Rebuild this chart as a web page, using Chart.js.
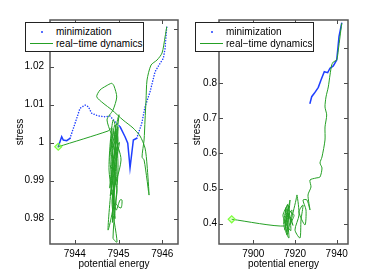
<!DOCTYPE html>
<html>
<head>
<meta charset="utf-8">
<script src="https://cdn.jsdelivr.net/npm/chart.js@4"></script>
<style>
  body { margin: 0; background: #fff; }
  #wrap { position: relative; width: 385px; height: 275px; overflow: hidden; font-family: 'Liberation Sans', Arial, sans-serif; }
  canvas { position: absolute; top: 0; }
  #cLeft { left: 0; }
  #cRight { left: 190px; }
  .legend { position: absolute; top: 22px; width: 119px; height: 30px; box-sizing: border-box; background: #fff; border: 1px solid #222; font-size: 10px; color: #000; }
  .legend .txt { position: absolute; left: 30px; line-height: 12px; white-space: nowrap; }
  .legend .dot { position: absolute; left: 15px; top: 8px; width: 2px; height: 2px; border-radius: 1px; background: #1f3fff; }
  .legend .line { position: absolute; left: 4px; top: 20px; width: 23px; height: 1px; background: #25a025; }
</style>
</head>
<body>
<div id="wrap">
  <canvas id="cLeft" width="190" height="275"></canvas>
  <canvas id="cRight" width="195" height="275"></canvas>
  <div class="legend" style="left:25px">
    <span class="dot"></span><span class="txt" style="top:3px">minimization</span>
    <span class="line"></span><span class="txt" style="top:15px">real−time dynamics</span>
  </div>
  <div class="legend" style="left:195px">
    <span class="dot"></span><span class="txt" style="top:3px">minimization</span>
    <span class="line"></span><span class="txt" style="top:15px">real−time dynamics</span>
  </div>
</div>
<script>
// left panel: minimization path (blue dots)
const leftMinX = [7943.622, 7943.700, 7943.737, 7943.815, 7943.890, 7944.005, 7944.119, 7944.233, 7944.309, 7944.387,
  7944.538, 7944.691, 7944.805, 7944.920, 7945.034, 7945.149, 7945.211, 7945.247, 7945.263, 7945.339,
  7945.416, 7945.531, 7945.606, 7945.721, 7945.835, 7945.950, 7946.025, 7946.064, 7946.103];
const leftMinY = [0.99889, 1.00153, 1.00066, 1.00047, 1.00111, 1.00505, 1.00900, 1.00987, 1.00942, 1.00768,
  1.00697, 1.00679, 1.00697, 1.00547, 1.00416, 1.00153, 0.99979, 0.99539, 0.99329, 1.00066,
  1.00111, 1.00505, 1.00942, 1.01337, 1.01863, 1.02084, 1.02216, 1.02479, 1.03047];

// left panel: real-time dynamics (green line)
const leftDynX = [7943.622, 7944.760, 7944.851, 7944.805, 7944.897, 7944.760, 7944.851, 7944.989, 7944.874, 7944.783,
  7944.943, 7945.034, 7945.080, 7945.057, 7944.943, 7944.966, 7944.828, 7944.920, 7944.989, 7944.874,
  7944.966, 7944.851, 7945.057, 7944.920, 7945.011, 7944.800, 7944.930, 7944.860, 7944.900, 7944.820,
  7944.950, 7944.880, 7944.990, 7944.840, 7944.920, 7944.870, 7945.020, 7944.810, 7944.960, 7944.890,
  7944.850, 7944.940, 7944.737, 7944.874, 7944.959, 7944.897, 7944.844,
  7944.714, 7944.577, 7944.501, 7944.645, 7944.851, 7945.103, 7945.332, 7945.492, 7945.606, 7945.652,
  7945.698, 7945.652, 7945.584, 7945.538, 7945.584, 7945.606, 7945.629, 7945.652, 7945.744, 7945.881,
  7945.995, 7946.064, 7946.103];
const leftDynY = [0.99889, 1.00303, 1.00382, 0.99539, 0.98487, 0.97697, 0.99013, 1.00066, 1.00592, 0.99276,
  0.98224, 0.98487, 0.98487, 0.98276, 0.98382, 0.98750, 0.99803, 1.00461, 0.99276, 0.97487,
  0.97382, 0.98487, 0.99539, 1.00197, 1.00724, 0.98800, 1.00350, 0.97900, 0.99300, 1.00100,
  0.99600, 0.98400, 1.00400, 0.99000, 0.98000, 0.99500, 1.00000, 0.98600, 0.99100, 1.00300,
  0.99400, 0.99850, 1.00592, 1.00855, 1.01197, 1.01487, 1.01558,
  1.01487, 1.01382, 1.01205, 1.01039, 1.00855, 1.00592, 1.00382, 1.00171, 0.99855, 0.99408,
  0.98618, 0.99013, 0.99539, 0.99618, 1.00066, 1.00592, 1.01118, 1.01645, 1.02039, 1.02171,
  1.02355, 1.02776, 1.03047];

// right panel: minimization
const rightMinX = [7927.19, 7928.01, 7929.26, 7931.18, 7932.47, 7934.05, 7935.68, 7936.79, 7938.37, 7940.00,
  7940.48, 7941.10, 7942.06, 7942.40];
const rightMinY = [0.7427, 0.7615, 0.7712, 0.7883, 0.8091, 0.8328, 0.8299, 0.8425, 0.8490, 0.8661,
  0.8946, 0.9325, 0.9610, 0.9707];

// right panel: real-time dynamics
const rightDynX = [7889.64, 7915.20, 7914.24, 7916.64, 7915.20, 7917.60, 7916.16, 7918.56, 7914.72, 7917.12,
  7915.50, 7916.00, 7917.00, 7915.00, 7918.00, 7916.50, 7914.50, 7917.50, 7919.00, 7916.00,
  7919.52, 7918.08, 7920.48, 7920.96, 7921.92, 7920.00, 7922.40, 7922.88, 7923.84, 7921.92,
  7924.80, 7925.28, 7923.84, 7925.76, 7927.19, 7926.24, 7927.67, 7927.19, 7930.07, 7931.99,
  7932.95, 7931.99, 7932.95, 7934.39, 7934.39, 7935.20, 7934.39, 7934.87, 7935.97, 7936.79,
  7937.60, 7938.37, 7940.00, 7940.77, 7941.58, 7942.40];
const rightDynY = [0.4123, 0.3932, 0.4245, 0.4530, 0.3818, 0.4672, 0.3675, 0.4387, 0.3960, 0.3590,
  0.4450, 0.3750, 0.4300, 0.4100, 0.3800, 0.4550, 0.4000, 0.4200, 0.3950, 0.4400,
  0.4245, 0.4046, 0.4672, 0.4815, 0.4245, 0.3818, 0.3590, 0.4103, 0.4530, 0.4330,
  0.3960, 0.4387, 0.4672, 0.4672, 0.4387, 0.4815, 0.5043, 0.5242, 0.5299, 0.5328,
  0.5584, 0.5726, 0.5897, 0.6382, 0.6752, 0.7094, 0.7322, 0.7607, 0.7892, 0.8234,
  0.8519, 0.8604, 0.8661, 0.8946, 0.9316, 0.9707];

const leftStart = [7943.622, 0.99889];
const rightStart = [7889.64, 0.4123];

const leftXTicks = [7944, 7945, 7946];
const leftYTicks = [0.98, 0.99, 1.00, 1.01, 1.02, 1.03];
const rightXTicks = [7900, 7920, 7940];
const rightYTicks = [0.4, 0.5, 0.6, 0.7, 0.8, 0.9];

const BLUE = '#1f3fff';
const GREEN = '#25a025';
const MARKER = '#7fff3f';
const FONT = { family: "'Liberation Sans', Arial, sans-serif", size: 10 };

const zip = (xs, ys) => xs.map((x, i) => ({ x, y: ys[i] }));

// box around the axes with inward ticks on all four sides
const frame = {
  id: 'frame',
  afterDatasetsDraw(chart) {
    const { ctx, chartArea: a, scales: { x, y } } = chart;
    const len = 4;
    ctx.save();
    ctx.strokeStyle = '#4a4a4a';
    ctx.lineWidth = 1;
    ctx.beginPath();
    x.ticks.forEach(t => {
      const px = Math.round(x.getPixelForValue(t.value)) + 0.5;
      ctx.moveTo(px, a.bottom); ctx.lineTo(px, a.bottom - len);
      ctx.moveTo(px, a.top); ctx.lineTo(px, a.top + len);
    });
    y.ticks.forEach(t => {
      const py = Math.round(y.getPixelForValue(t.value)) + 0.5;
      ctx.moveTo(a.left, py); ctx.lineTo(a.left + len, py);
      ctx.moveTo(a.right, py); ctx.lineTo(a.right - len, py);
    });
    ctx.stroke();
    ctx.lineWidth = 1.5;
    ctx.strokeStyle = '#555';
    ctx.strokeRect(a.left, a.top, a.right - a.left, a.bottom - a.top);
    ctx.restore();
  }
};

function makePanel(id, cfg) {
  return new Chart(document.getElementById(id), {
    type: 'scatter',
    data: {
      datasets: [
        {
          label: 'start',
          data: [{ x: cfg.start[0], y: cfg.start[1] }],
          pointStyle: 'rectRot',
          pointRadius: 3.5,
          borderWidth: 1.2,
          borderColor: MARKER,
          backgroundColor: 'rgba(127,255,63,0.25)',
          order: 0
        },
        {
          label: 'real−time dynamics',
          data: zip(cfg.dynX, cfg.dynY),
          showLine: true,
          pointRadius: 0,
          borderColor: GREEN,
          borderWidth: 1,
          tension: 0.25,
          order: 1
        },
        {
          label: 'minimization',
          data: zip(cfg.minX, cfg.minY),
          showLine: true,
          pointRadius: 0,
          borderColor: BLUE,
          borderWidth: 1.5,
          borderCapStyle: 'round',
          segment: { borderDash: cfg.dotted },
          order: 2
        }
      ]
    },
    options: {
      responsive: false,
      animation: false,
      events: [],
      layout: { padding: { top: 20, right: cfg.padRight, left: 0, bottom: 0 } },
      plugins: { legend: { display: false }, tooltip: { enabled: false } },
      scales: {
        x: {
          type: 'linear',
          min: cfg.xMin, max: cfg.xMax,
          grid: { display: false, drawTicks: false },
          border: { display: false },
          afterBuildTicks: s => { s.ticks = cfg.xTicks.map(v => ({ value: v })); },
          afterFit: s => { s.height = 31; },
          ticks: { font: FONT, color: '#000', padding: 4, maxRotation: 0, callback: v => String(v) },
          title: { display: true, text: 'potential energy', font: FONT, color: '#000', padding: { top: 0, bottom: 5 } }
        },
        y: {
          type: 'linear',
          min: cfg.yMin, max: cfg.yMax,
          grid: { display: false, drawTicks: false },
          border: { display: false },
          afterBuildTicks: s => { s.ticks = cfg.yTicks.map(v => ({ value: v })); },
          afterFit: s => { s.width = cfg.yWidth; },
          ticks: { font: FONT, color: '#000', padding: cfg.yPad, callback: v => String(+v.toFixed(2)) },
          title: { display: true, text: 'stress', font: FONT, color: '#000', padding: { top: cfg.titlePad, bottom: 0 } }
        }
      }
    },
    plugins: [frame]
  });
}

makePanel('cLeft', {
  start: leftStart, minX: leftMinX, minY: leftMinY, dynX: leftDynX, dynY: leftDynY,
  xMin: 7943.433, xMax: 7946.36, yMin: 0.97329, yMax: 1.03224,
  xTicks: leftXTicks, yTicks: leftYTicks,
  padRight: 12, yWidth: 50, yPad: 6, titlePad: 14,
  dotted: c => (c.p0.parsed.y > 1.0045 || c.p1.parsed.y > 1.0045) ? [0.1, 2.6] : undefined
});

makePanel('cRight', {
  start: rightStart, minX: rightMinX, minY: rightMinY, dynX: rightDynX, dynY: rightDynY,
  xMin: 7883.55, xMax: 7945.42, yMin: 0.3419, yMax: 0.98,
  xTicks: rightXTicks, yTicks: rightYTicks,
  padRight: 37, yWidth: 29, yPad: 2, titlePad: 1,
  dotted: () => undefined
});
</script>
</body>
</html>
